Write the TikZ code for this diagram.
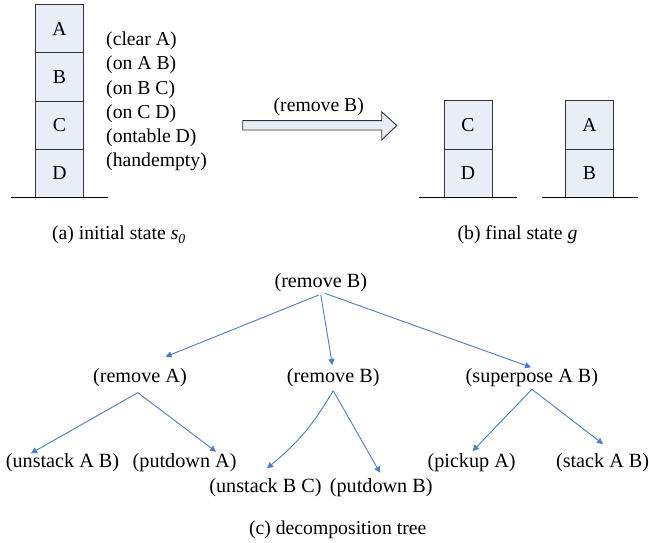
\documentclass[tikz,border=0pt]{standalone}
\usepackage{fontspec}
\setmainfont{Liberation Serif}
\usetikzlibrary{arrows.meta}
\definecolor{boxfill}{HTML}{E8EDF7}
\definecolor{boxline}{HTML}{333333}
\definecolor{treeblue}{HTML}{4A7CC9}
\tikzset{
  txt/.style={font=\fontsize{19.7}{24.3}\selectfont, inner sep=0pt},
  ttxt/.style={font=\fontsize{20.2}{24.3}\selectfont, inner sep=0pt},
  blk/.style={txt, draw=boxline, fill=boxfill, line width=0.9pt, minimum width=48pt, minimum height=48.2pt},
  ground/.style={draw=black, line width=0.9pt},
  tedge/.style={draw=treeblue, line width=0.9pt, -{Triangle[length=6pt,width=6pt]}},
}
\begin{document}
\begin{tikzpicture}[x=1pt,y=-1pt]
\useasboundingbox (0,0) rectangle (649,543);
% (a) initial state
\node[blk] (A) at (59.5,28.7) {A};
\node[blk] (B) at (59.5,76.9) {B};
\node[blk] (C) at (59.5,125.1) {C};
\node[blk] (D) at (59.5,173.3) {D};
\draw[ground] (11,197.3) -- (107.7,197.3);
\node[txt, anchor=west, align=left] (facts) at (106,101.5) {(clear A)\\(on A B)\\(on B C)\\(on C D)\\(ontable D)\\(handempty)};
\node[txt, anchor=base] (capa) at (119,240) {(a) initial state \textit{s}\textsubscript{\textit{0}}};
% big arrow
\draw[draw=boxline, fill=boxfill, line width=0.9pt] (242.7,120.7) -- (381.7,120.7) -- (381.7,111.7) -- (396.7,125.5) -- (381.7,140) -- (381.7,130) -- (242.7,130) -- cycle;
\node[txt] (act) at (318.8,106.7) {(remove B)};
% (b) final state
\node[blk] (C2) at (468,125) {C};
\node[blk] (D2) at (468,173.3) {D};
\draw[ground] (419.3,197.3) -- (516.7,197.3);
\node[blk] (A2) at (589.5,125) {A};
\node[blk] (B2) at (589.5,173.3) {B};
\draw[ground] (541.7,197.3) -- (638.3,197.3);
\node[txt, anchor=base] (capb) at (517.5,240) {(b) final state \textit{g}};
% (c) tree
\node[ttxt] (root) at (320.8,282.7) {(remove B)};
\node[ttxt] (rA) at (139.9,377.3) {(remove A)};
\node[ttxt] (rB) at (333.2,378) {(remove B)};
\node[ttxt] (sp) at (531.9,377.3) {(superpose A B)};
\node[ttxt] (uAB) at (62.5,462.3) {(unstack A B)};
\node[ttxt] (pA) at (184.6,462.3) {(putdown A)};
\node[ttxt] (uBC) at (265.5,487.7) {(unstack B C)};
\node[ttxt] (pB) at (381.2,487.7) {(putdown B)};
\node[ttxt] (pk) at (471.6,462.3) {(pickup A)};
\node[ttxt] (st) at (602.6,462.3) {(stack A B)};
\node[txt] (capc) at (337.7,530) {(c) decomposition tree};
\draw[tedge] ([shift={(-2,12.3)}]root.center) -- ([shift={(25.7,-20.6)}]rA.center);
\draw[tedge] ([shift={(0,12.3)}]root.center) -- ([shift={(-0.8,-13)}]rB.center);
\draw[tedge] ([shift={(4,10.6)}]root.center) -- ([shift={(-0.9,-10)}]sp.center);
\draw[tedge] ([shift={(-2.1,15.4)}]rA.center) -- ([shift={(-31.5,-9)}]uAB.center);
\draw[tedge] ([shift={(-2.1,15.4)}]rA.center) -- ([shift={(31.4,-10.6)}]pA.center);
\draw[tedge] ([shift={(0,12.7)}]rB.center) to[bend left=10] ([shift={(1.5,-19.4)}]uBC.center);
\draw[tedge] ([shift={(0,12.7)}]rB.center) -- ([shift={(-1.2,-15)}]pB.center);
\draw[tedge] ([shift={(0,12)}]sp.center) -- ([shift={(1.1,-11.3)}]pk.center);
\draw[tedge] ([shift={(0,12)}]sp.center) -- ([shift={(0.4,-18.3)}]st.center);
\end{tikzpicture}
\end{document}
